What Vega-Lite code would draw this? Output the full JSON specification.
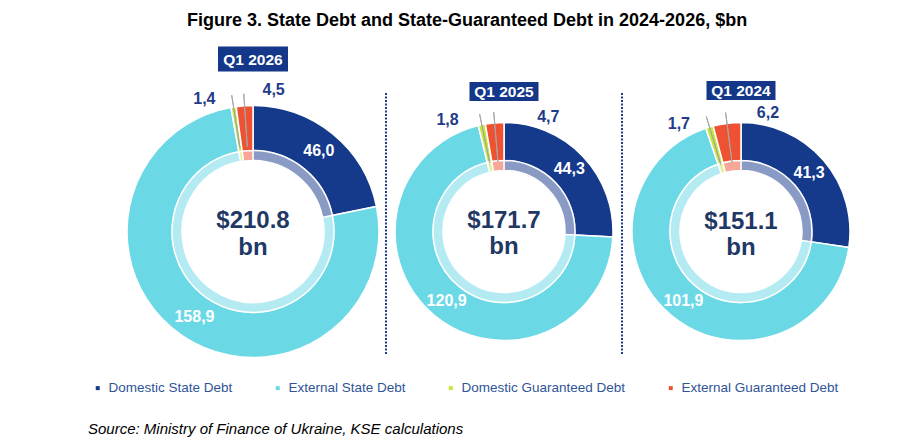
{
  "$schema": "https://vega.github.io/schema/vega-lite/v6.json",
  "background": "white",
  "padding": {"left": 88, "top": 12, "right": 0, "bottom": 0},
  "title": {
    "text": "Source: Ministry of Finance of Ukraine, KSE calculations",
    "orient": "bottom", "anchor": "start", "frame": "group",
    "dx": -32, "offset": 27,
    "fontSize": 15, "fontStyle": "italic", "fontWeight": "normal", "color": "#000000"
  },
  "data": {
    "values": [
      {"period": "Q1 2026", "k": 1, "type": "Domestic State Debt", "value": 46.0, "label": "46,0"},
      {"period": "Q1 2026", "k": 2, "type": "External State Debt", "value": 158.9, "label": "158,9"},
      {"period": "Q1 2026", "k": 3, "type": "Domestic Guaranteed Debt", "value": 1.4, "label": "1,4"},
      {"period": "Q1 2026", "k": 4, "type": "External Guaranteed Debt", "value": 4.5, "label": "4,5"},
      {"period": "Q1 2025", "k": 1, "type": "Domestic State Debt", "value": 44.3, "label": "44,3"},
      {"period": "Q1 2025", "k": 2, "type": "External State Debt", "value": 120.9, "label": "120,9"},
      {"period": "Q1 2025", "k": 3, "type": "Domestic Guaranteed Debt", "value": 1.8, "label": "1,8"},
      {"period": "Q1 2025", "k": 4, "type": "External Guaranteed Debt", "value": 4.7, "label": "4,7"},
      {"period": "Q1 2024", "k": 1, "type": "Domestic State Debt", "value": 41.3, "label": "41,3"},
      {"period": "Q1 2024", "k": 2, "type": "External State Debt", "value": 101.9, "label": "101,9"},
      {"period": "Q1 2024", "k": 3, "type": "Domestic Guaranteed Debt", "value": 1.7, "label": "1,7"},
      {"period": "Q1 2024", "k": 4, "type": "External Guaranteed Debt", "value": 6.2, "label": "6,2"}
    ]
  },
  "vconcat": [
    {
      "title": {
        "text": "Figure 3. State Debt and State-Guaranteed Debt in 2024-2026, $bn",
        "anchor": "start", "frame": "group", "dx": 67, "offset": 16.5,
        "fontSize": 18, "fontWeight": "bold", "color": "#000000"
      },
      "spacing": 0,
      "bounds": "flush",
      "resolve": {"scale": {"theta": "independent"}},
      "hconcat": [
        {
          "width": 266, "height": 277,
          "transform": [{"filter": "datum.period == 'Q1 2026'"}],
          "layer": [
            {
              "encoding": {
                "theta": {"field": "value", "type": "quantitative", "stack": true},
                "order": {"field": "k", "type": "quantitative"}
              },
              "layer": [
                {
                  "mark": {"type": "arc", "innerRadius": 81, "outerRadius": 126, "stroke": "white", "strokeWidth": 1.5},
                  "encoding": {
                    "color": {
                      "field": "type", "type": "nominal",
                      "scale": {
                        "domain": ["Domestic State Debt", "External State Debt", "Domestic Guaranteed Debt", "External Guaranteed Debt"],
                        "range": ["#153a8b", "#6bd8e6", "#c8e63c", "#ee5233"]
                      },
                      "legend": {"title": null, "orient": "none", "direction": "horizontal", "legendX": -29, "legendY": 288}
                    }
                  }
                },
                {
                  "mark": {"type": "arc", "innerRadius": 71, "outerRadius": 81, "opacity": 0.5, "stroke": "white", "strokeWidth": 1.5},
                  "encoding": {"color": {"field": "type", "type": "nominal", "legend": null}}
                },
                {
                  "mark": {"type": "arc", "innerRadius": 85, "outerRadius": 138, "padAngle": 0.4, "fillOpacity": 0, "stroke": "#a6a6a6", "strokeWidth": 1},
                  "encoding": {"strokeOpacity": {"condition": {"test": "datum.value < 10", "value": 1}, "value": 0}}
                },
                {
                  "mark": {"type": "text", "radius": 104, "fontSize": 16, "fontWeight": "bold", "color": "white"},
                  "encoding": {"text": {"condition": {"test": "datum.value >= 10", "field": "label"}, "value": ""}}
                },
                {
                  "mark": {"type": "text", "radius": 140, "dx": -27, "dy": 6, "fontSize": 16, "fontWeight": "bold", "color": "#1f3c88"},
                  "encoding": {"text": {"condition": {"test": "datum.k == 3", "field": "label"}, "value": ""}}
                },
                {
                  "mark": {"type": "text", "radius": 140, "dx": 30, "dy": -2, "fontSize": 16, "fontWeight": "bold", "color": "#1f3c88"},
                  "encoding": {"text": {"condition": {"test": "datum.k == 4", "field": "label"}, "value": ""}}
                }
              ]
            },
            {
              "transform": [{"aggregate": [{"op": "sum", "field": "value", "as": "total"}], "groupby": ["period"]}],
              "layer": [
                {
                  "mark": {"type": "point", "shape": "M-1.4,-0.5H1.4V0.5H-1.4Z", "size": 2500, "filled": true, "opacity": 1, "color": "#15378a", "yOffset": -172.5}
                },
                {
                  "mark": {"type": "text", "dy": -172, "fontSize": 15.5, "fontWeight": "bold", "color": "white", "baseline": "middle"},
                  "encoding": {"text": {"field": "period"}}
                },
                {
                  "mark": {"type": "text", "dy": -4, "fontSize": 24, "fontWeight": "bold", "color": "#1f3864", "baseline": "alphabetic"},
                  "encoding": {"text": {"field": "total", "type": "quantitative", "format": "$.1f"}}
                },
                {
                  "mark": {"type": "text", "dy": 23, "fontSize": 24, "fontWeight": "bold", "color": "#1f3864", "baseline": "alphabetic"},
                  "encoding": {"text": {"value": "bn"}}
                }
              ]
            }
          ]
        },
        {
          "width": 236, "height": 277,
          "transform": [{"filter": "datum.period == 'Q1 2025'"}],
          "layer": [
            {
              "encoding": {
                "theta": {"field": "value", "type": "quantitative", "stack": true},
                "order": {"field": "k", "type": "quantitative"}
              },
              "layer": [
                {
                  "mark": {"type": "arc", "innerRadius": 71, "outerRadius": 109, "stroke": "white", "strokeWidth": 1.5},
                  "encoding": {
                    "color": {
                      "field": "type", "type": "nominal",
                      "legend": {"title": null, "orient": "none", "direction": "horizontal", "legendX": -29, "legendY": 288}
                    }
                  }
                },
                {
                  "mark": {"type": "arc", "innerRadius": 61, "outerRadius": 71, "opacity": 0.5, "stroke": "white", "strokeWidth": 1.5},
                  "encoding": {"color": {"field": "type", "type": "nominal", "legend": null}}
                },
                {
                  "mark": {"type": "arc", "innerRadius": 70, "outerRadius": 120, "padAngle": 0.4, "fillOpacity": 0, "stroke": "#a6a6a6", "strokeWidth": 1},
                  "encoding": {"strokeOpacity": {"condition": {"test": "datum.value < 10", "value": 1}, "value": 0}}
                },
                {
                  "mark": {"type": "text", "radius": 90, "fontSize": 16, "fontWeight": "bold", "color": "white"},
                  "encoding": {"text": {"condition": {"test": "datum.value >= 10", "field": "label"}, "value": ""}}
                },
                {
                  "mark": {"type": "text", "radius": 125, "dx": -31, "dy": 11, "fontSize": 16, "fontWeight": "bold", "color": "#1f3c88"},
                  "encoding": {"text": {"condition": {"test": "datum.k == 3", "field": "label"}, "value": ""}}
                },
                {
                  "mark": {"type": "text", "radius": 125, "dx": 55, "dy": 10, "fontSize": 16, "fontWeight": "bold", "color": "#1f3c88"},
                  "encoding": {"text": {"condition": {"test": "datum.k == 4", "field": "label"}, "value": ""}}
                }
              ]
            },
            {
              "transform": [{"aggregate": [{"op": "sum", "field": "value", "as": "total"}], "groupby": ["period"]}],
              "layer": [
                {
                  "mark": {"type": "rule", "strokeDash": [2, 1.5], "strokeWidth": 2, "color": "#1f3c88"},
                  "encoding": {"x": {"value": 0}, "y": {"value": 0}, "y2": {"value": 262}}
                },
                {
                  "mark": {"type": "point", "shape": "M-1.8,-0.5H1.8V0.5H-1.8Z", "size": 1470, "filled": true, "opacity": 1, "color": "#15378a", "yOffset": -140}
                },
                {
                  "mark": {"type": "text", "dy": -139.5, "fontSize": 15.5, "fontWeight": "bold", "color": "white", "baseline": "middle"},
                  "encoding": {"text": {"field": "period"}}
                },
                {
                  "mark": {"type": "text", "dy": -4, "fontSize": 24, "fontWeight": "bold", "color": "#1f3864", "baseline": "alphabetic"},
                  "encoding": {"text": {"field": "total", "type": "quantitative", "format": "$.1f"}}
                },
                {
                  "mark": {"type": "text", "dy": 22, "fontSize": 24, "fontWeight": "bold", "color": "#1f3864", "baseline": "alphabetic"},
                  "encoding": {"text": {"value": "bn"}}
                }
              ]
            }
          ]
        },
        {
          "width": 238, "height": 277,
          "transform": [{"filter": "datum.period == 'Q1 2024'"}],
          "layer": [
            {
              "encoding": {
                "theta": {"field": "value", "type": "quantitative", "stack": true},
                "order": {"field": "k", "type": "quantitative"}
              },
              "layer": [
                {
                  "mark": {"type": "arc", "innerRadius": 71, "outerRadius": 109, "stroke": "white", "strokeWidth": 1.5},
                  "encoding": {
                    "color": {
                      "field": "type", "type": "nominal",
                      "legend": {"title": null, "orient": "none", "direction": "horizontal", "legendX": -29, "legendY": 288}
                    }
                  }
                },
                {
                  "mark": {"type": "arc", "innerRadius": 61, "outerRadius": 71, "opacity": 0.5, "stroke": "white", "strokeWidth": 1.5},
                  "encoding": {"color": {"field": "type", "type": "nominal", "legend": null}}
                },
                {
                  "mark": {"type": "arc", "innerRadius": 70, "outerRadius": 120, "padAngle": 0.4, "fillOpacity": 0, "stroke": "#a6a6a6", "strokeWidth": 1},
                  "encoding": {"strokeOpacity": {"condition": {"test": "datum.value < 10", "value": 1}, "value": 0}}
                },
                {
                  "mark": {"type": "text", "radius": 90, "fontSize": 16, "fontWeight": "bold", "color": "white"},
                  "encoding": {"text": {"condition": {"test": "datum.value >= 10", "field": "label"}, "value": ""}}
                },
                {
                  "mark": {"type": "text", "radius": 125, "dx": -26, "dy": 12, "fontSize": 16, "fontWeight": "bold", "color": "#1f3c88"},
                  "encoding": {"text": {"condition": {"test": "datum.k == 3", "field": "label"}, "value": ""}}
                },
                {
                  "mark": {"type": "text", "radius": 125, "dx": 43, "dy": 5, "fontSize": 16, "fontWeight": "bold", "color": "#1f3c88"},
                  "encoding": {"text": {"condition": {"test": "datum.k == 4", "field": "label"}, "value": ""}}
                }
              ]
            },
            {
              "transform": [{"aggregate": [{"op": "sum", "field": "value", "as": "total"}], "groupby": ["period"]}],
              "layer": [
                {
                  "mark": {"type": "rule", "strokeDash": [2, 1.5], "strokeWidth": 2, "color": "#1f3c88"},
                  "encoding": {"x": {"value": 0}, "y": {"value": 0}, "y2": {"value": 262}}
                },
                {
                  "mark": {"type": "point", "shape": "M-1.8,-0.5H1.8V0.5H-1.8Z", "size": 1470, "filled": true, "opacity": 1, "color": "#15378a", "yOffset": -141}
                },
                {
                  "mark": {"type": "text", "dy": -140.5, "fontSize": 15.5, "fontWeight": "bold", "color": "white", "baseline": "middle"},
                  "encoding": {"text": {"field": "period"}}
                },
                {
                  "mark": {"type": "text", "dy": -3, "fontSize": 24, "fontWeight": "bold", "color": "#1f3864", "baseline": "alphabetic"},
                  "encoding": {"text": {"field": "total", "type": "quantitative", "format": "$.1f"}}
                },
                {
                  "mark": {"type": "text", "dy": 23, "fontSize": 24, "fontWeight": "bold", "color": "#1f3864", "baseline": "alphabetic"},
                  "encoding": {"text": {"value": "bn"}}
                }
              ]
            }
          ]
        }
      ]
    }
  ],
  "config": {
    "font": "Liberation Sans",
    "view": {"stroke": null},
    "legend": {
      "symbolType": "square",
      "symbolSize": 16,
      "symbolStrokeWidth": 0,
      "labelFontSize": 13.5,
      "labelColor": "#2f5597",
      "labelOffset": 4,
      "labelLimit": 300,
      "columnPadding": 38,
      "padding": 0
    }
  }
}
